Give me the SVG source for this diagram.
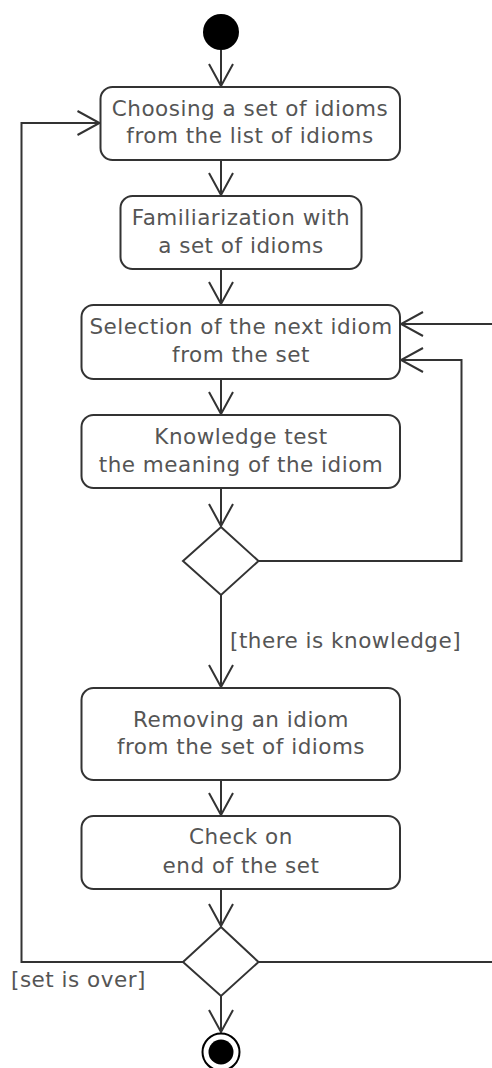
<svg xmlns="http://www.w3.org/2000/svg" width="492" height="1068" viewBox="0 0 492 1068">
  <style>
    .act { fill: #ffffff; stroke: #333333; stroke-width: 2; }
    .dec { fill: #ffffff; stroke: #333333; stroke-width: 2; }
    .flow { fill: none; stroke: #333333; stroke-width: 2; }
    .lbl { font-family: "DejaVu Sans", "Open Sans", sans-serif; font-size: 21.5px; letter-spacing: 0.5px; fill: #555555; }
    .mid { text-anchor: middle; }
  </style>
  <defs>
    <marker id="open-arrow" markerUnits="userSpaceOnUse" viewBox="-24 -14 26 28" markerWidth="26" markerHeight="28" refX="0" refY="0" orient="auto">
      <path d="M-22,-12 L0,0 L-22,12" fill="none" stroke="#333333" stroke-width="2"/>
    </marker>
  </defs>
  <rect width="492" height="1068" fill="#ffffff"/>

  <!-- control flows -->
  <g id="connectors">
    <path class="flow" d="M221,50 V86" marker-end="url(#open-arrow)"/>
    <path class="flow" d="M221,160 V195" marker-end="url(#open-arrow)"/>
    <path class="flow" d="M221,269 V304" marker-end="url(#open-arrow)"/>
    <path class="flow" d="M221,379 V414" marker-end="url(#open-arrow)"/>
    <path class="flow" d="M221,488 V526" marker-end="url(#open-arrow)"/>
    <path class="flow" d="M221,595 V687" marker-end="url(#open-arrow)"/>
    <path class="flow" d="M221,780 V815" marker-end="url(#open-arrow)"/>
    <path class="flow" d="M221,889 V926" marker-end="url(#open-arrow)"/>
    <path class="flow" d="M221,996 V1032" marker-end="url(#open-arrow)"/>
    <!-- no knowledge: back to selection -->
    <path class="flow" d="M258,561 H461.5 V360 H401" marker-end="url(#open-arrow)"/>
    <!-- set not over: next idiom -->
    <path class="flow" d="M258,962 H500 V324 H401" marker-end="url(#open-arrow)"/>
    <!-- set is over: choose a new set -->
    <path class="flow" d="M183,962 H21.5 V123 H99.5" marker-end="url(#open-arrow)"/>
    <text class="lbl" x="230" y="648">[there is knowledge]</text>
    <text class="lbl" x="11" y="987">[set is over]</text>
  </g>

  <g id="start">
    <circle cx="221" cy="32" r="18" fill="#000000"/>
  </g>

  <g id="choose-set">
    <rect class="act" x="100.5" y="87" width="299.5" height="73" rx="12"/>
    <text class="lbl mid" x="250" y="116">Choosing a set of idioms</text>
    <text class="lbl mid" x="250" y="143">from the list of idioms</text>
  </g>

  <g id="familiarization">
    <rect class="act" x="120.5" y="196" width="241" height="73" rx="12"/>
    <text class="lbl mid" x="241" y="225">Familiarization with</text>
    <text class="lbl mid" x="241" y="253">a set of idioms</text>
  </g>

  <g id="select-next">
    <rect class="act" x="81.5" y="305" width="318.5" height="74" rx="12"/>
    <text class="lbl mid" x="241" y="334">Selection of the next idiom</text>
    <text class="lbl mid" x="241" y="362">from the set</text>
  </g>

  <g id="knowledge-test">
    <rect class="act" x="81.5" y="415" width="318.5" height="73" rx="12"/>
    <text class="lbl mid" x="241" y="444">Knowledge test</text>
    <text class="lbl mid" x="241" y="472">the meaning of the idiom</text>
  </g>

  <g id="decision-knowledge">
    <polygon class="dec" points="221,527 258.5,561 221,595 183,561"/>
  </g>

  <g id="remove-idiom">
    <rect class="act" x="81.5" y="688" width="318.5" height="92" rx="12"/>
    <text class="lbl mid" x="241" y="727">Removing an idiom</text>
    <text class="lbl mid" x="241" y="754">from the set of idioms</text>
  </g>

  <g id="check-end">
    <rect class="act" x="81.5" y="816" width="318.5" height="73" rx="12"/>
    <text class="lbl mid" x="241" y="844">Check on</text>
    <text class="lbl mid" x="241" y="873">end of the set</text>
  </g>

  <g id="decision-end">
    <polygon class="dec" points="221,927 258.5,962 221,996 183,962"/>
  </g>

  <g id="final">
    <circle cx="221" cy="1052" r="18.5" fill="#ffffff" stroke="#000000" stroke-width="2"/>
    <circle cx="221" cy="1052" r="12.5" fill="#000000"/>
  </g>
</svg>
